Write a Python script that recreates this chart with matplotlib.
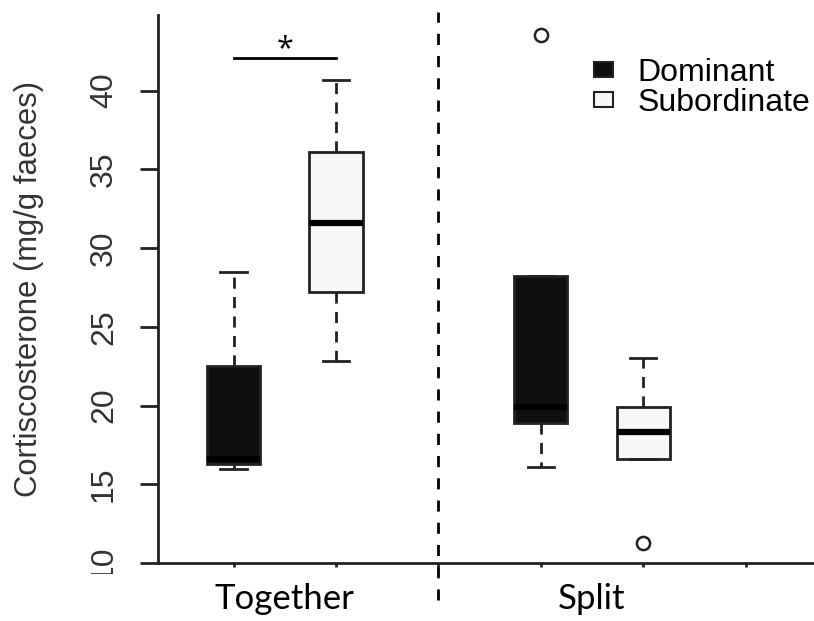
import matplotlib.pyplot as plt
import matplotlib.transforms as mtransforms
from matplotlib.patches import Rectangle

# summary statistics for each box (mg/g faeces)
groups = ["Together", "Split"]
status = ["Dominant", "Subordinate"]
positions = [1, 2, 4, 5]
medians = [16.6, 31.6, 19.9, 18.3]
q1s = [16.3, 27.2, 18.9, 16.6]
q3s = [22.5, 36.1, 28.2, 19.9]
whis_lo = [16.0, 22.8, 16.1, 16.6]
whis_hi = [28.5, 40.7, 28.2, 23.0]
outliers = [[], [], [43.5], [11.3]]
fills = ["#0f0f0f", "#f7f7f7", "#0f0f0f", "#f7f7f7"]
sig_level = 42.05

fig = plt.figure(figsize=(8.14, 6.21), dpi=100)
ax = fig.add_axes([0.194, 0.0934, 0.815, 0.8824])

stats = []
for i in range(len(positions)):
    stats.append(dict(med=medians[i], q1=q1s[i], q3=q3s[i],
                      whislo=whis_lo[i], whishi=whis_hi[i], fliers=outliers[i]))

bp = ax.bxp(stats, positions=positions, widths=0.52, patch_artist=True,
            showfliers=True,
            boxprops=dict(edgecolor="#222222", linewidth=2),
            medianprops=dict(color="black", linewidth=4.5, solid_capstyle="butt"),
            whiskerprops=dict(color="#222222", linewidth=2, linestyle=(0, (4, 3))),
            capprops=dict(color="#222222", linewidth=2),
            capwidths=0.26,
            flierprops=dict(marker="o", markerfacecolor="none",
                            markeredgecolor="#222222", markersize=9.5, markeredgewidth=1.8))
for box, c in zip(bp["boxes"], fills):
    box.set_facecolor(c)

ax.set_xlim(0.26, 6.74)
ax.set_ylim(10.0, 44.8)

for side in ["top", "right"]:
    ax.spines[side].set_visible(False)
for side in ["left", "bottom"]:
    ax.spines[side].set_linewidth(2)
    ax.spines[side].set_color("#222222")

ax.set_yticks([10, 15, 20, 25, 30, 35, 40])
ax.tick_params(axis="y", length=13, width=2, color="#222222", labelsize=23,
               labelcolor="#333333", pad=15)
for lab in ax.get_yticklabels():
    lab.set_rotation(90)
    lab.set_va("center")
    lab.set_family("Liberation Sans")
ax.set_xticks([1, 2, 3, 4, 5, 6])
ax.set_xticklabels([])
ax.tick_params(axis="x", length=3, width=2, color="#222222")

ax.set_ylabel("Cortiscosterone (mg/g faeces)", fontsize=22.3, color="#333333",
              family="Liberation Sans")
ax.yaxis.set_label_coords(-0.171, 0.5)

# the lowest tick label is cut off along the bottom edge
cut = mtransforms.TransformedBbox(mtransforms.Bbox([[0, 0.0757], [1, 1]]),
                                  fig.transFigure)
low = ax.get_yticklabels()[0]
low.set_clip_on(True)
low.set_clip_box(cut)

# divider between the two housing conditions
ax.axvline(3, ymin=-0.068, ymax=1.005, color="black", linewidth=2,
           linestyle=(0, (4, 4)), clip_on=False)

trans = mtransforms.blended_transform_factory(ax.transData, ax.transAxes)
for name, left, right in zip(groups, positions[0::2], positions[1::2]):
    ax.text((left + right) / 2, -0.065, name, transform=trans, ha="center",
            va="center", fontsize=25, family="Lato", color="black")

# significance bar between Together groups
ax.plot([1, 2], [sig_level, sig_level], color="black", linewidth=2)
ax.text(1.5, sig_level + 0.1, "*", ha="center", va="baseline", fontsize=22,
        family="Open Sans")

handles = [Rectangle((0, 0), 1, 1, facecolor=fills[0], edgecolor="#222222", linewidth=1.5),
           Rectangle((0, 0), 1, 1, facecolor=fills[1], edgecolor="#222222", linewidth=1.5)]
leg = ax.legend(handles, status, loc="upper left", bbox_to_anchor=(0.7297, 0.9066),
                bbox_transform=fig.transFigure, borderpad=0, borderaxespad=0,
                frameon=False, handlelength=0.6, handleheight=0.38, handletextpad=0.75,
                labelspacing=0.0, prop=dict(family="Liberation Sans", size=23))

fig.savefig("out.png", dpi=100)
